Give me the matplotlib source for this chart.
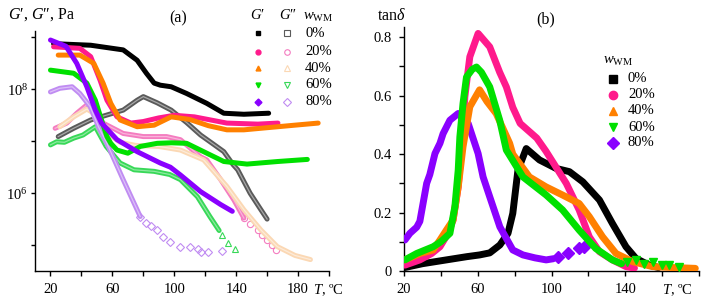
import numpy as np
import matplotlib.pyplot as plt
from matplotlib.ticker import FixedLocator, FixedFormatter, NullFormatter

plt.rcParams['font.family'] = ['Liberation Serif', 'DejaVu Serif']
plt.rcParams['mathtext.fontset'] = 'custom'
plt.rcParams['mathtext.rm'] = 'Liberation Serif'
plt.rcParams['mathtext.it'] = 'Liberation Serif:italic'

# ---- (a) G', G'' vs T  (log10 values) ----
T_gp0 = [22, 46, 67, 76, 82, 87, 91, 98, 108, 121, 132, 145, 161]
lg_gp0 = [8.88, 8.85, 8.76, 8.56, 8.31, 8.12, 8.08, 8.05, 7.92, 7.73, 7.54, 7.52, 7.54]
T_gpp0 = [25, 35, 46, 57, 67, 76, 80, 89, 98, 108, 117, 125, 132, 138, 141, 149, 156, 160]
lg_gpp0 = [7.09, 7.25, 7.41, 7.51, 7.60, 7.79, 7.86, 7.74, 7.60, 7.36, 7.12, 6.95, 6.80, 6.55, 6.45, 6.0, 5.68, 5.5]

T_gp20 = [22, 39, 46, 52, 56.5, 63, 72, 80, 90, 100, 113, 134, 154, 167]
lg_gp20 = [8.82, 8.79, 8.63, 8.18, 7.79, 7.47, 7.35, 7.38, 7.45, 7.50, 7.47, 7.35, 7.33, 7.35]
T_gpp20 = [23, 30.5, 37, 43.5, 48, 54, 67, 80, 95, 104, 117, 121, 130, 138.5, 145]
lg_gpp20 = [7.25, 7.35, 7.54, 7.70, 7.60, 7.35, 7.15, 7.09, 7.09, 7.03, 6.70, 6.64, 6.26, 5.87, 5.52]
T_gpp20_tail = [145, 149, 154, 157, 160, 163, 165.5]
lg_gpp20_tail = [5.52, 5.40, 5.29, 5.20, 5.10, 5.0, 4.91]

T_gp40 = [25, 39, 48, 54, 59, 65, 76, 87, 98, 110, 122, 134, 145, 156, 178, 193]
lg_gp40 = [8.66, 8.66, 8.50, 8.12, 7.73, 7.41, 7.28, 7.31, 7.47, 7.42, 7.30, 7.22, 7.22, 7.25, 7.31, 7.35]
T_gpp40 = [26, 35, 43.5, 50, 57, 65, 75, 90, 104, 119, 134, 145, 156, 166.6, 178, 188]
lg_gpp40 = [7.28, 7.47, 7.62, 7.50, 7.15, 6.98, 6.92, 6.90, 6.83, 6.64, 6.13, 5.68, 5.29, 4.97, 4.80, 4.72]

T_gp60 = [20, 35, 43.5, 49, 53, 56.5, 59, 63, 70, 78, 89, 98, 108, 121, 132, 147, 167, 186]
lg_gp60 = [8.37, 8.31, 8.12, 7.79, 7.41, 7.09, 6.96, 6.83, 6.77, 6.90, 6.96, 6.97, 6.96, 6.77, 6.61, 6.56, 6.61, 6.65]
T_gpp60 = [20, 24, 29, 35, 41, 46, 49, 56, 65, 74, 87, 97, 104, 115, 123, 129]
lg_gpp60 = [6.93, 6.99, 6.98, 7.06, 7.12, 7.22, 7.28, 6.90, 6.58, 6.45, 6.42, 6.36, 6.26, 5.93, 5.55, 5.28]
T_gpp60_tail = [131, 135, 139]
lg_gpp60_tail = [5.20, 5.04, 4.93]

T_gp80 = [20, 30, 37, 43.5, 49, 53, 63, 76, 91, 97.5, 104, 117, 130, 137.5]
lg_gp80 = [8.95, 8.83, 8.50, 8.05, 7.60, 7.35, 7.03, 6.80, 6.58, 6.50, 6.35, 6.03, 5.78, 5.65]
T_gpp80 = [20, 26, 34, 39, 45.6, 51, 56.5, 67, 78]
lg_gpp80 = [7.95, 8.02, 8.05, 7.92, 7.67, 7.28, 6.96, 6.26, 5.55]
T_gpp80_tail = [78, 82, 85, 89, 93, 97, 104, 110, 115.5, 117, 122, 131]
lg_gpp80_tail = [5.55, 5.42, 5.36, 5.29, 5.16, 5.06, 4.97, 4.96, 4.92, 4.87, 4.87, 4.89]

# ---- (b) tan delta vs T ----
T_td0 = [20.5, 30, 41, 54, 61, 66.5, 72, 76.4, 79, 81.8, 86.3, 93.5, 102.5, 109.7, 117, 126, 133, 140.4, 145.8, 153, 158]
td0 = [0.012, 0.025, 0.036, 0.049, 0.055, 0.062, 0.089, 0.129, 0.197, 0.345, 0.419, 0.38, 0.351, 0.34, 0.305, 0.243, 0.163, 0.083, 0.043, 0.02, 0.012]
T_td20 = [20.5, 28.6, 35, 39.5, 44, 46.6, 49.4, 51.2, 53, 55.7, 60.2, 66.5, 71.9, 75.5, 79, 83, 92, 97, 104, 108, 115, 120.5, 126, 133, 140.4, 145]
td20 = [0.02, 0.038, 0.06, 0.083, 0.13, 0.174, 0.288, 0.425, 0.596, 0.733, 0.813, 0.767, 0.68, 0.63, 0.56, 0.505, 0.455, 0.41, 0.34, 0.30, 0.209, 0.117, 0.066, 0.038, 0.015, 0.01]
T_td40 = [20.5, 28.6, 35.8, 39.5, 43, 46.6, 49.4, 52, 55.7, 61, 65, 70, 77.3, 79, 88, 97, 106, 115, 120.5, 127.7, 135, 144, 154.8, 165, 178]
td40 = [0.038, 0.06, 0.072, 0.106, 0.14, 0.174, 0.288, 0.425, 0.562, 0.62, 0.58, 0.539, 0.437, 0.40, 0.322, 0.288, 0.26, 0.231, 0.186, 0.117, 0.06, 0.032, 0.015, 0.012, 0.009]
T_td60 = [20.5, 26.9, 35.8, 40, 44.9, 47.6, 49.4, 50.3, 52, 53.9, 57, 59.3, 62, 66.5, 71.9, 75.5, 84.5, 97.1, 106, 115, 124, 133, 138]
td60 = [0.038, 0.06, 0.083, 0.10, 0.129, 0.22, 0.345, 0.459, 0.573, 0.664, 0.69, 0.698, 0.68, 0.63, 0.516, 0.414, 0.322, 0.26, 0.209, 0.14, 0.077, 0.038, 0.025]
T_td60_tail = [141, 145.8, 150, 154.8, 160, 163.8, 169]
td60_tail = [0.03, 0.038, 0.025, 0.032, 0.02, 0.02, 0.013]
T_td80 = [20.5, 23.2, 26.9, 28.6, 32.3, 34, 36.8, 39.5, 41.2, 44.9, 49.4, 54.8, 60.2, 62.9, 66.5, 72, 79, 84.5, 91, 97.1, 101]
td80 = [0.106, 0.129, 0.15, 0.17, 0.3, 0.33, 0.402, 0.437, 0.47, 0.516, 0.539, 0.505, 0.402, 0.322, 0.254, 0.151, 0.072, 0.055, 0.045, 0.038, 0.042]
T_td80_tail = [103.4, 108.8, 115, 117.8]
td80_tail = [0.049, 0.06, 0.077, 0.083]

wwm = ['0%', '20%', '40%', '60%', '80%']
c_gp = ['#000000', '#ff1a8c', '#ff8000', '#00e000', '#8a00ff']
c_gpp = ['#5a5a5a', '#f47cc0', '#fbd8b4', '#38d858', '#c08cf2']
c_gpp_in = ['#a8a8a8', '#f9b4da', '#fdebd9', '#8eeaa0', '#dcc0f8']
mk = ['s', 'o', '^', 'v', 'D']

W, H = 713, 306
fig = plt.figure(figsize=(W / 100, H / 100), dpi=100)
ax1 = fig.add_axes([35 / W, 1 - 271 / H, 294 / W, 240.3 / H])
ax2 = fig.add_axes([404 / W, 1 - 271 / H, 295 / W, 244 / H])


def px(x, y):
    return x / W, 1 - y / H


def hollow(ax, T, lg, i, z):
    G = 10 ** np.array(lg)
    ax.plot(T, G, color=c_gpp[i], lw=3.6, solid_capstyle='round', zorder=z)
    ax.plot(T, G, color=c_gpp_in[i], lw=0.9, zorder=z + 0.1)


# G'' bands (open markers in original)
gpp = [(T_gpp0, lg_gpp0), (T_gpp20, lg_gpp20), (T_gpp40, lg_gpp40),
       (T_gpp60, lg_gpp60), (T_gpp80, lg_gpp80)]
for i, (T, lg) in enumerate(gpp):
    hollow(ax1, T, lg, i, 2 + i * 0.2)
ax1.plot(T_gpp20_tail, 10 ** np.array(lg_gpp20_tail), ls='none', marker='o', ms=4.5,
         mfc='none', mec=c_gpp[1], mew=0.8, zorder=2)
ax1.plot(T_gpp60_tail, 10 ** np.array(lg_gpp60_tail), ls='none', marker='^', ms=4.5,
         mfc='none', mec=c_gpp[3], mew=0.8, zorder=2)
ax1.plot(T_gpp80_tail, 10 ** np.array(lg_gpp80_tail), ls='none', marker='D', ms=4,
         mfc='none', mec=c_gpp[4], mew=0.8, zorder=2)

# G' thick lines
gp = [(T_gp0, lg_gp0), (T_gp20, lg_gp20), (T_gp40, lg_gp40),
      (T_gp60, lg_gp60), (T_gp80, lg_gp80)]
for i, (T, lg) in enumerate(gp):
    ax1.plot(T, 10 ** np.array(lg), color=c_gp[i], lw=3.6, solid_capstyle='round',
             zorder=4 + i * 0.2)

ax1.set_yscale('log')
ax1.set_xlim(10, 200)
ax1.set_ylim(10 ** 4.5, 10 ** 9.13)
ax1.yaxis.set_major_locator(FixedLocator([1e6, 1e8]))
ax1.yaxis.set_major_formatter(FixedFormatter([r'$10^6$', r'$10^8$']))
ax1.yaxis.set_minor_locator(FixedLocator([1e5, 1e7, 1e9]))
ax1.yaxis.set_minor_formatter(NullFormatter())
ax1.xaxis.set_major_locator(FixedLocator([20, 60, 100, 140, 180]))
ax1.xaxis.set_minor_locator(FixedLocator([40, 80, 120, 160, 200]))
ax1.tick_params(axis='y', which='both', direction='out', length=3, width=1, pad=2, labelsize=10.5)
ax1.tick_params(axis='x', which='both', direction='out', length=3.5, width=1, pad=5, labelsize=10.5)

# (b)
ax2.plot(T_td0, td0, color=c_gp[0], lw=5, solid_capstyle='round', zorder=2)
ax2.plot(T_td80, td80, color=c_gp[4], lw=5, solid_capstyle='round', zorder=3)
ax2.plot(T_td80_tail, td80_tail, ls='none', marker='D', ms=6, color=c_gp[4], zorder=3)
ax2.plot(T_td20, td20, color=c_gp[1], lw=5, solid_capstyle='round', zorder=4)
ax2.plot(T_td40, td40, color=c_gp[2], lw=5, solid_capstyle='round', zorder=5)
ax2.plot(T_td60, td60, color=c_gp[3], lw=5, solid_capstyle='round', zorder=6)
ax2.plot(T_td60_tail, td60_tail, ls='none', marker='v', ms=6, color=c_gp[3], zorder=6)

ax2.set_xlim(20, 180)
ax2.set_ylim(0, 0.835)
ax2.xaxis.set_major_locator(FixedLocator([20, 60, 100, 140, 180]))
ax2.xaxis.set_major_formatter(FixedFormatter(['20', '60', '100', '140', '']))
ax2.xaxis.set_minor_locator(FixedLocator([40, 80, 120, 160]))
ax2.yaxis.set_major_locator(FixedLocator([0, 0.2, 0.4, 0.6, 0.8]))
ax2.yaxis.set_major_formatter(FixedFormatter(['0', '0.2', '0.4', '0.6', '0.8']))
ax2.yaxis.set_minor_locator(FixedLocator([0.1, 0.3, 0.5, 0.7]))
ax2.tick_params(axis='y', which='both', direction='out', length=3.5, width=1, pad=5, labelsize=10.5)
ax2.tick_params(axis='x', which='both', direction='out', length=3.5, width=1, pad=5, labelsize=10.5)

for ax in (ax1, ax2):
    ax.spines['top'].set_visible(False)
    ax.spines['right'].set_visible(False)
    for s in ('left', 'bottom'):
        ax.spines[s].set_linewidth(1)

# labels and titles
fig.text(*px(8, 15), '$G$\u2032, $G$\u2033, Pa', fontsize=11.5, va='center', ha='left')
fig.text(*px(377, 16), r"tan$\delta$", fontsize=11.5, va='center', ha='left')
fig.text(*px(178, 18), '(a)', fontsize=11.5, va='center', ha='center')
fig.text(*px(546, 19), '(b)', fontsize=11.5, va='center', ha='center')
fig.text(*px(313, 290), r'$T$, ºC', fontsize=10.5, va='center', ha='left')
fig.text(*px(662, 290), r'$T$, ºC', fontsize=10.5, va='center', ha='left')

# legend (a)
fig.text(*px(258, 15), '$G$\u2032', fontsize=10.5, va='center', ha='center')
fig.text(*px(288, 15), '$G$\u2033', fontsize=10.5, va='center', ha='center')
fig.text(*px(303, 17), r"$w_{\rm WM}$", fontsize=10.5, va='center', ha='left')
rows_a = [33.3, 51.7, 68.3, 85, 101.7]
for i, y in enumerate(rows_a):
    ax1.plot(*px(258, y), marker=mk[i], ms=3.5, color=c_gp[i], transform=fig.transFigure,
             clip_on=False)
    ax1.plot(*px(287, y), marker=mk[i], ms=4, mfc='none', mec=c_gpp[i], mew=0.8,
             transform=fig.transFigure, clip_on=False)
    fig.text(*px(305, y), wwm[i], fontsize=10.5, va='center', ha='left')

# legend (b)
fig.text(*px(603, 61), r"$w_{\rm WM}$", fontsize=10.5, va='center', ha='left')
rows_b = [79, 94.5, 110.5, 127, 143]
for i, y in enumerate(rows_b):
    ax2.plot(*px(613, y), marker=mk[i], ms=6, color=c_gp[i], transform=fig.transFigure,
             clip_on=False)
    fig.text(*px(628, y), wwm[i], fontsize=10.5, va='center', ha='left')

fig.savefig('out.png', dpi=100)
